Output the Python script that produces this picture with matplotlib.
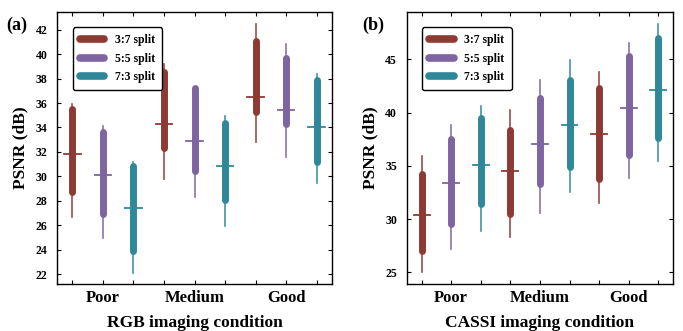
import matplotlib.pyplot as plt
import numpy as np

plt.rcParams['font.family'] = ['Liberation Serif', 'DejaVu Serif']
plt.rcParams['font.weight'] = 'bold'
plt.rcParams['axes.labelweight'] = 'bold'

conditions = ['Poor', 'Medium', 'Good']
splits = ['3:7 split', '5:5 split', '7:3 split']
colors = ['#8E3A34', '#7E64A0', '#2E889A']

# each row: [whisker low, box low, median, box high, whisker high], order Poor/Medium/Good
rgb_37 = [[26.7, 28.7, 31.8, 35.5, 35.9],
          [29.8, 32.3, 34.3, 38.5, 39.2],
          [32.8, 35.3, 36.5, 41.1, 42.5]]
rgb_55 = [[25.0, 26.9, 30.1, 33.6, 34.1],
          [28.3, 30.4, 32.9, 37.2, 37.2],
          [31.6, 34.3, 35.4, 39.7, 40.85]]
rgb_73 = [[22.1, 23.9, 27.4, 30.85, 31.2],
          [25.95, 28.05, 30.85, 34.4, 34.9],
          [29.5, 31.2, 34.05, 37.9, 38.35]]

cassi_37 = [[25.0, 27.0, 30.4, 34.25, 35.9],
            [28.3, 30.5, 34.5, 38.4, 40.2],
            [31.5, 33.8, 38.0, 42.35, 43.85]]
cassi_55 = [[27.2, 29.5, 33.4, 37.5, 38.8],
            [30.6, 33.25, 37.05, 41.4, 43.05],
            [33.9, 36.05, 40.45, 45.35, 46.5]]
cassi_73 = [[28.85, 31.4, 35.1, 39.45, 40.65],
            [32.5, 34.9, 38.8, 43.1, 44.95],
            [35.45, 37.65, 42.15, 47.0, 48.35]]


def draw(ax, series, ylim, yticks, xlabel):
    for k, (data, col) in enumerate(zip(series, colors)):
        for i, row in enumerate(data):
            x = 1 + i * 3 + k
            lo, q1, med, q3, hi = row
            ax.plot([x, x], [lo, hi], color=col, lw=1.2, alpha=0.9, zorder=2)
            ax.plot([x, x], [q1, q3], color=col, lw=5, solid_capstyle='round', zorder=3)
            ax.plot([x - 0.27, x + 0.27], [med, med], color=col, lw=1.3, zorder=4)
    for k, col in enumerate(colors):
        ax.plot([], [], color=col, lw=5.5, solid_capstyle='round', label=splits[k])
    ax.set_xlim(0.5, 9.5)
    ax.set_ylim(*ylim)
    ax.set_yticks(yticks)
    ax.set_xticks(np.arange(1, 10))
    ax.set_xticklabels(['', 'Poor', '', '', 'Medium', '', '', 'Good', ''], fontsize=12,
                       fontweight='bold')
    for t in ax.get_yticklabels():
        t.set_fontweight('bold')
    ax.tick_params(direction='in', top=True, right=True, length=3, width=0.8)
    ax.tick_params(axis='y', labelsize=8.5, pad=7)
    ax.tick_params(axis='x', pad=4)
    ax.set_ylabel('PSNR (dB)', fontsize=12.5, fontweight='bold', labelpad=5)
    ax.set_xlabel(xlabel, fontsize=12.5, fontweight='bold', labelpad=7)
    for s in ax.spines.values():
        s.set_linewidth(1.0)
    leg = ax.legend(loc='upper left', bbox_to_anchor=(0.035, 0.965), fontsize=8.5,
                    frameon=True, fancybox=True, edgecolor='black', handlelength=2.1,
                    borderpad=0.6, labelspacing=0.55, handletextpad=0.9,
                    prop={'weight': 'bold', 'size': 8.5})
    leg.get_frame().set_linewidth(1.0)
    leg.get_frame().set_alpha(1)


fig = plt.figure(figsize=(6.83, 3.31), dpi=100)
ax1 = fig.add_axes([0.0835, 0.142, 0.4026, 0.822])
ax2 = fig.add_axes([0.5955, 0.142, 0.390, 0.822])

draw(ax1, [rgb_37, rgb_55, rgb_73], (21.2, 43.45), np.arange(22, 43, 2),
     'RGB imaging condition')
draw(ax2, [cassi_37, cassi_55, cassi_73], (23.9, 49.45), [25, 30, 35, 40, 45],
     'CASSI imaging condition')

fig.text(0.025, 0.922, '(a)', fontsize=13, fontweight='bold', ha='center', va='center')
fig.text(0.547, 0.922, '(b)', fontsize=13, fontweight='bold', ha='center', va='center')

fig.savefig('out.png', dpi=100)
